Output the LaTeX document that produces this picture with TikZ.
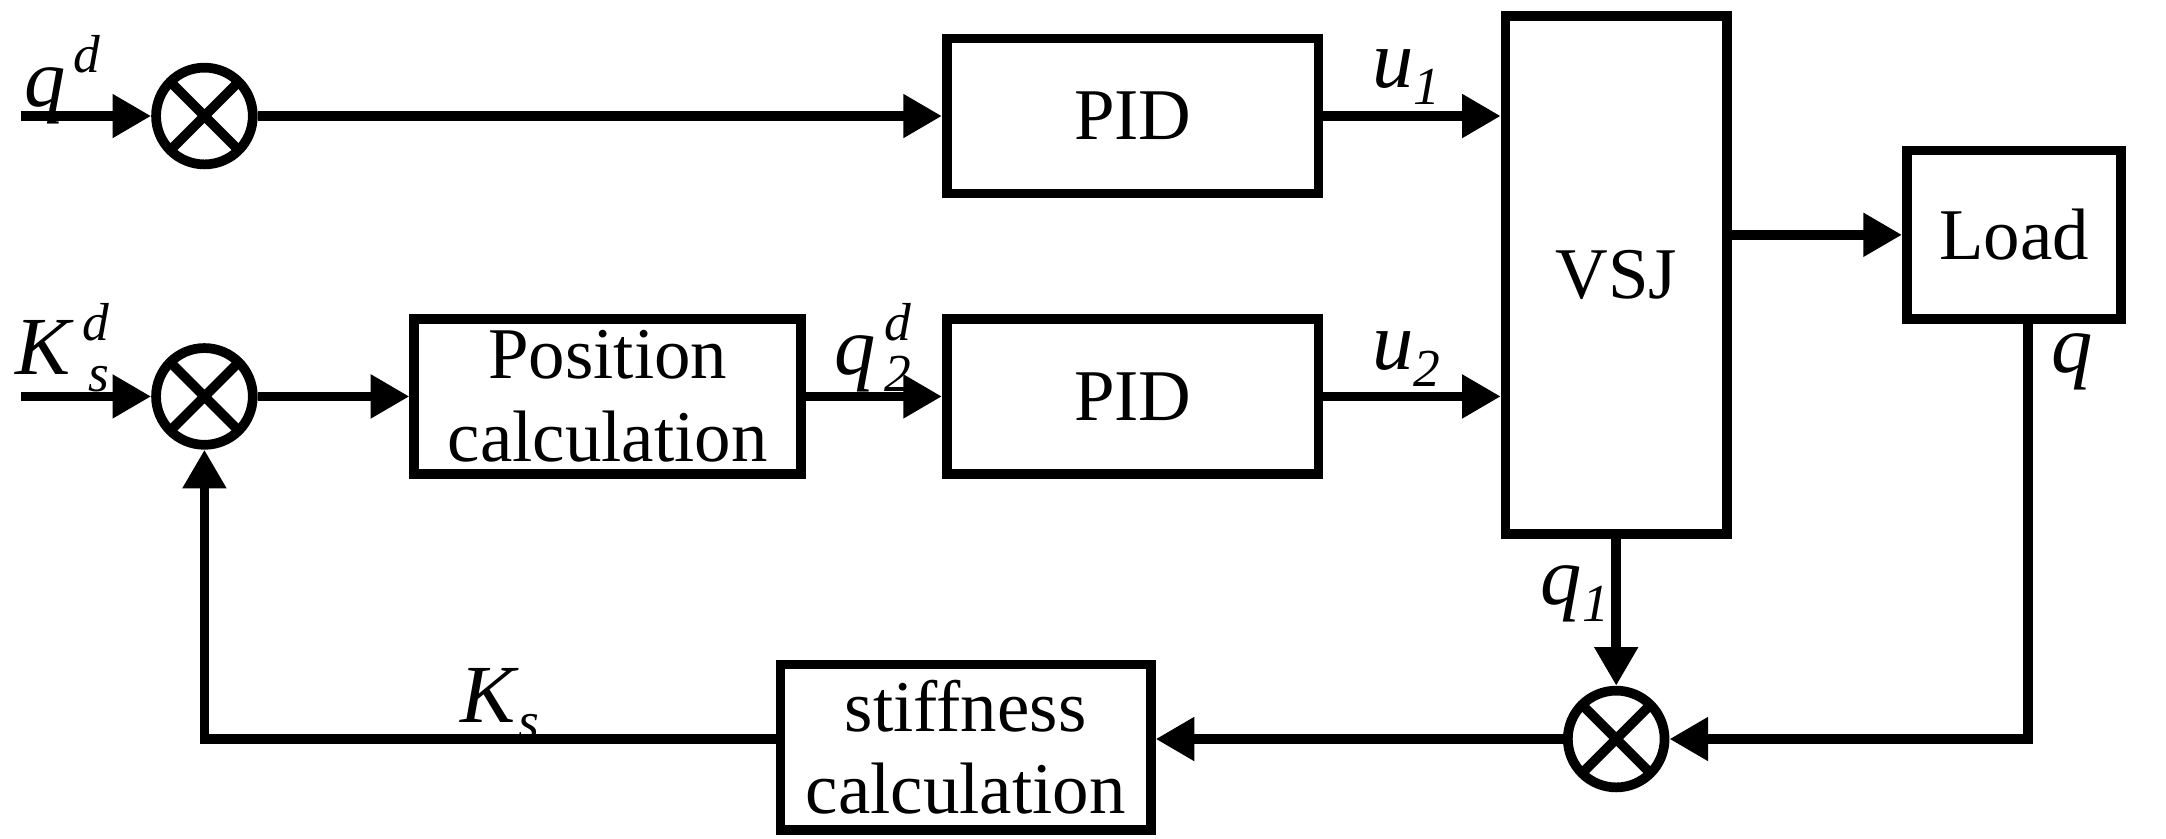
\documentclass[tikz,border=0pt]{standalone}
\usepackage{fontspec}
\setmainfont{Liberation Serif}
\usetikzlibrary{arrows.meta}
\newcommand{\vr}[3]{\textit{#1}\raisebox{0.9ex}{\fontsize{11}{12}\selectfont\kern0.15em\textit{#2}}\llap{\raisebox{-0.45ex}{\fontsize{11}{12}\selectfont\textit{#3}}}}
\newcommand{\vsub}[2]{\textit{#1}\raisebox{-0.45ex}{\fontsize{11}{12}\selectfont\textit{#2}}}
\tikzset{
  blk/.style={draw, line width=2pt, inner sep=0pt, font=\fontsize{15}{17}\selectfont, align=center},
  sumj/.style={draw, circle, line width=2pt, minimum size=0.7cm, inner sep=0pt,
    path picture={\draw[line width=2pt] (path picture bounding box.north west) -- (path picture bounding box.south east)
      (path picture bounding box.north east) -- (path picture bounding box.south west);}},
  sig/.style={line width=2pt, -{Triangle[length=0.28cm,width=0.3cm]}},
  lab/.style={font=\fontsize{17}{19}\selectfont}
}
\begin{document}
\begin{tikzpicture}[x=0.01cm,y=-0.01cm]
   \useasboundingbox (0,0) rectangle (1568,607);

   % blocks
   \node[blk, minimum width=2.69cm, minimum height=1.12cm] (pid1) at (820,84) {PID};
   \node[blk, minimum width=2.69cm, minimum height=1.12cm] (pid2) at (820,287) {PID};
   \node[blk, minimum width=2.8cm, minimum height=1.12cm] (pos) at (440,287) {Position\\calculation};
   \node[blk, minimum width=1.6cm, minimum height=3.75cm] (vsj) at (1170,199) {VSJ};
   \node[blk, minimum width=1.55cm, minimum height=1.22cm] (load) at (1458,170) {Load};
   \node[blk, minimum width=2.68cm, minimum height=1.2cm] (stiff) at (699,541) {stiffness\\calculation};

   % summing junctions
   \node[sumj] (s1) at (148,84) {};
   \node[sumj] (s2) at (148,287) {};
   \node[sumj] (s3) at (1170,535) {};

   \coordinate (in1) at (15,84);
   \coordinate (in2) at (15,287);
   \coordinate (loadq) at (1468,535);
   \coordinate (fb) at (148,535);

   % signals
   \draw[sig] (in1) -- (s1);
   \draw[sig] (s1) -- (pid1);
   \draw[sig] (pid1) -- (pid1.east -| vsj.west);
   \draw[sig] (vsj.east |- load.west) -- (load);
   \draw[sig] (in2) -- (s2);
   \draw[sig] (s2) -- (pos);
   \draw[sig] (pos) -- (pid2);
   \draw[sig] (pid2) -- (pid2.east -| vsj.west);
   \draw[sig] (vsj.south) -- (s3);
   \draw[sig] (load.south -| loadq) -- (loadq) -- (s3);
   \draw[sig] (s3) -- (s3 -| stiff.east);
   \draw[sig] (s3 -| stiff.west) -- (fb) -- (s2);

   % labels
   \node[lab] (lqd) at (45,58) {\vr{q}{d}{}};
   \node[lab] (lksd) at (45,252) {\vr{K}{d}{s}};
   \node[lab] (lq2d) at (632,252) {\vr{q}{d}{2}};
   \node[lab] (lu1) at (1018,56) {\vsub{u}{1}};
   \node[lab] (lu2) at (1018,260) {\vsub{u}{2}};
   \node[lab] (lq) at (1500,262) {\textit{q}};
   \node[lab] (lq1) at (1140,430) {\vsub{q}{1}};
   \node[lab] (lks) at (362,510) {\vsub{K}{s}};
\end{tikzpicture}
\end{document}
